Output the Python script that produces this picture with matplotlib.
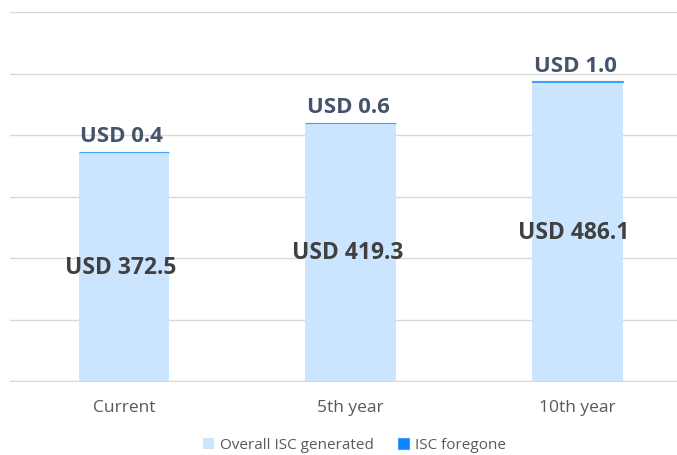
import numpy as np
import matplotlib.pyplot as plt

categories = ["Current", "5th year", "10th year"]
overall = [372.5, 419.3, 486.1]
foregone = [0.4, 0.6, 1.0]
series_names = ["Overall ISC generated", "ISC foregone"]

light = "#CCE5FF"
dark = "#0A84FF"
top_col = "#44546A"
mid_col = "#404040"

plt.rcParams['font.family'] = ['Open Sans', 'DejaVu Sans']

fig = plt.figure(figsize=(6.77, 4.55), dpi=100)
ax = fig.add_axes([0.0155, 0.1626, 1.005, 0.811])

x = np.arange(len(categories))
w = 0.4
ax.bar(x, overall, w, color=light, label=series_names[0], zorder=2)
ax.bar(x, foregone, w, bottom=overall, color=dark, edgecolor="#3FA0FF",
       linewidth=0.8, label=series_names[1], zorder=3)

for i in range(len(x)):
    ax.text(x[i] - 0.015, overall[i] / 2 - 2, "USD %.1f" % overall[i], ha='center', va='center',
            fontsize=16.5, fontweight='bold', color=mid_col, zorder=4)
    ax.text(x[i] - 0.01, overall[i] + foregone[i] + 8, "USD %.1f" % foregone[i],
            ha='center', va='bottom', fontsize=16, fontweight='bold', color=top_col, zorder=4)

ax.set_xlim(-0.5, 2.5)
ax.set_ylim(0, 600)
ax.set_yticks(np.arange(0, 601, 100))
ax.yaxis.grid(True, color="#D9D9D9", linewidth=1, zorder=0)
ax.set_axisbelow(True)
ax.tick_params(axis='y', left=False, labelleft=False)
ax.tick_params(axis='x', bottom=False, labelsize=12.5, labelcolor="#595959", pad=10)
ax.set_xticks(x)
ax.set_xticklabels(categories)
for s in ['top', 'right', 'left']:
    ax.spines[s].set_visible(False)
ax.spines['bottom'].set_color("#D9D9D9")

fig.legend(loc='lower center', bbox_to_anchor=(0.524, -0.026), ncol=2, frameon=False,
           fontsize=11, labelcolor="#595959", handlelength=0.7, handleheight=0.7,
           handletextpad=0.4, columnspacing=1.6)

plt.savefig('out.png', dpi=100)
